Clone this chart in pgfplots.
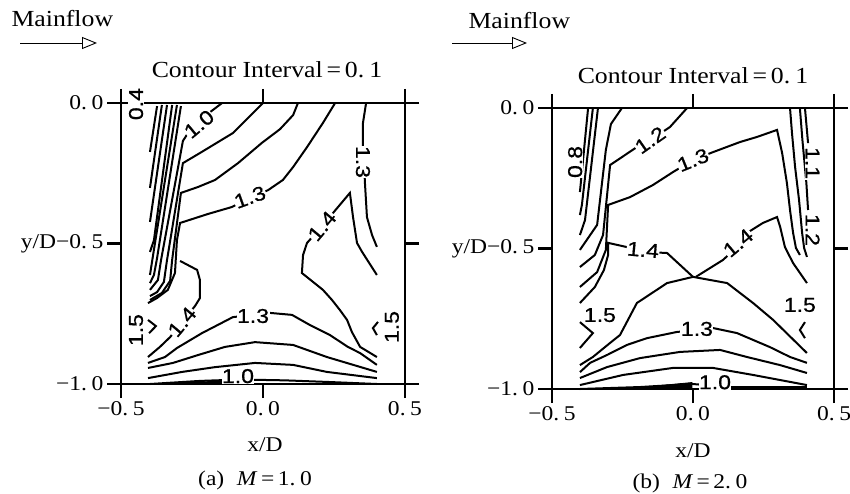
\documentclass[border=0pt]{standalone}
\usepackage{fontspec}
\setmainfont{Liberation Serif}[FakeStretch=1.12]
\newfontfamily\lab{Liberation Sans}[FakeStretch=1.15, FakeBold=0.8]
\usepackage{pgfplots}
\pgfplotsset{compat=1.18}
\usetikzlibrary{arrows.meta}

\newcommand{\dt}{.\hspace{0.22em}}

\pgfplotsset{
  cpanel/.style={
    scale only axis, height=281pt,
    xmin=-0.5, xmax=0.5, ymin=-1, ymax=0,
    xtick={-0.5,0,0.5}, ytick={-1,-0.5,0},
    xticklabels={−0\dt5, 0\dt0, 0\dt5},
    yticklabels={−1\dt0, y/D−0\dt5, 0\dt0},
    tick align=outside, major tick length=14pt,
    axis line style={line width=2.2pt},
    tick style={line width=2.2pt, black},
    ticklabel style={font=\fontsize{21}{22}\selectfont},
    clip=false,
  },
  cline/.style={line width=2pt, black, no markers},
}
\tikzset{lbl/.style={font=\lab\fontsize{20}{20}\selectfont, fill=white, inner sep=0.5pt}}

\begin{document}
\begin{tikzpicture}
\path[use as bounding box] (0,0) rectangle (850pt,-494pt);

% ---------------- (a) M = 1.0
\begin{axis}[cpanel, width=284pt, at={(121pt,-384pt)}, anchor=south west]
% left fan
\addplot[cline] coordinates {(-0.373,-0.011) (-0.398,-0.174)};
\addplot[cline] coordinates {(-0.356,-0.007) (-0.398,-0.302)};
\addplot[cline] coordinates {(-0.338,-0.007) (-0.398,-0.423)};
\addplot[cline] coordinates {(-0.320,-0.007) (-0.384,-0.488) (-0.398,-0.530)};
\addplot[cline] coordinates {(-0.303,-0.007) (-0.387,-0.541) (-0.398,-0.612)};
\addplot[cline] coordinates {(-0.289,-0.011) (-0.373,-0.552) (-0.384,-0.612) (-0.398,-0.641)};
% 1.0
\addplot[cline] coordinates {(-0.144,0) (-0.204,-0.046) (-0.257,-0.096) (-0.282,-0.135)
  (-0.359,-0.559) (-0.370,-0.630) (-0.398,-0.665)};
% 1.1
\addplot[cline] coordinates {(0,0) (-0.106,-0.107) (-0.222,-0.178) (-0.282,-0.214)
  (-0.338,-0.559) (-0.349,-0.637) (-0.373,-0.673) (-0.398,-0.687)};
% 1.2
\addplot[cline] coordinates {(0.123,0) (0.106,-0.043) (0.060,-0.093) (-0.004,-0.142)
  (-0.088,-0.214) (-0.169,-0.274) (-0.229,-0.299) (-0.289,-0.320)
  (-0.320,-0.559) (-0.327,-0.633) (-0.356,-0.676) (-0.398,-0.701)};
% 1.3 (upper left)
\addplot[cline] coordinates {(0.254,0) (0.211,-0.071) (0.155,-0.157) (0.106,-0.228)
  (0.070,-0.274) (0.018,-0.310) (-0.046,-0.338) (-0.109,-0.370) (-0.194,-0.395)
  (-0.292,-0.427) (-0.303,-0.488) (-0.310,-0.605) (-0.335,-0.665) (-0.373,-0.694) (-0.405,-0.712)};
% 1.4 (left)
\addplot[cline] coordinates {(-0.292,-0.562) (-0.232,-0.594) (-0.222,-0.630) (-0.222,-0.694)
  (-0.239,-0.722) (-0.285,-0.779) (-0.327,-0.833) (-0.363,-0.868) (-0.405,-0.904)};
% 1.3 (right, from top)
\addplot[cline] coordinates {(0.363,0) (0.352,-0.071) (0.352,-0.157) (0.356,-0.221)
  (0.359,-0.285) (0.366,-0.406) (0.384,-0.470) (0.401,-0.512)};
% 1.4 (right)
\addplot[cline] coordinates {(0.401,-0.612) (0.349,-0.530) (0.331,-0.498) (0.317,-0.406)
  (0.306,-0.320) (0.261,-0.374) (0.208,-0.438) (0.155,-0.498) (0.141,-0.541) (0.137,-0.605)
  (0.211,-0.665) (0.243,-0.701) (0.271,-0.737) (0.296,-0.772) (0.313,-0.815) (0.342,-0.868) (0.401,-0.904)};
% 1.3 (bottom)
\addplot[cline] coordinates {(-0.405,-0.925) (-0.345,-0.904) (-0.303,-0.872) (-0.215,-0.819)
  (-0.106,-0.762) (-0.039,-0.754) (0.025,-0.747) (0.102,-0.754) (0.165,-0.790)
  (0.236,-0.826) (0.299,-0.868) (0.342,-0.890) (0.401,-0.932)};
% 1.2 (bottom)
\addplot[cline] coordinates {(-0.405,-0.943) (-0.317,-0.925) (-0.229,-0.897) (-0.134,-0.868)
  (-0.028,-0.851) (0.106,-0.861) (0.225,-0.904) (0.401,-0.957)};
% 1.1 (bottom)
\addplot[cline] coordinates {(-0.405,-0.979) (-0.285,-0.957) (-0.169,-0.940) (-0.028,-0.925)
  (0.106,-0.932) (0.225,-0.957) (0.401,-0.979)};
% 1.0 (bottom)
\addplot[cline] coordinates {(-0.398,-1.0) (-0.222,-0.989) (-0.081,-0.984) (0.077,-0.987)
  (0.236,-0.993) (0.401,-1.0)};
\addplot[cline] coordinates {(-0.345,-0.998) (-0.169,-0.993) (-0.088,-0.991)};
% 1.5 bits
\addplot[cline] coordinates {(-0.405,-0.772) (-0.377,-0.794) (-0.401,-0.819)};
\addplot[cline] coordinates {(0.405,-0.779) (0.387,-0.801) (0.401,-0.826)};
% labels
\node[lbl, rotate=90] at (axis cs:-0.447,-0.004) {0.4};
\node[lbl, rotate=40] at (axis cs:-0.225,-0.075) {1.0};
\node[lbl, rotate=20] at (axis cs:-0.046,-0.335) {1.3};
\node[lbl, rotate=-90] at (axis cs:0.352,-0.210) {1.3};
\node[lbl, rotate=50] at (axis cs:0.208,-0.438) {1.4};
\node[lbl, rotate=50] at (axis cs:-0.285,-0.779) {1.4};
\node[lbl] at (axis cs:-0.035,-0.758) {1.3};
\node[lbl] at (axis cs:-0.088,-0.972) {1.0};
\node[lbl, rotate=90] at (axis cs:-0.447,-0.808) {1.5};
\node[lbl, rotate=90] at (axis cs:0.454,-0.797) {1.5};
\end{axis}

% ---------------- (b) M = 2.0
\begin{axis}[cpanel, width=282pt, at={(552pt,-389pt)}, anchor=south west]
% left fan
\addplot[cline] coordinates {(-0.372,0) (-0.401,-0.299)};
\addplot[cline] coordinates {(-0.355,0) (-0.394,-0.345) (-0.401,-0.381)};
\addplot[cline] coordinates {(-0.337,0) (-0.383,-0.399) (-0.401,-0.452)};
\addplot[cline] coordinates {(-0.252,0) (-0.291,-0.057) (-0.309,-0.149) (-0.340,-0.416) (-0.401,-0.505)};
% 1.2
\addplot[cline] coordinates {(-0.021,0) (-0.082,-0.068) (-0.152,-0.114) (-0.199,-0.139)
  (-0.294,-0.203) (-0.319,-0.452) (-0.348,-0.523) (-0.401,-0.566)};
% 1.3
\addplot[cline] coordinates {(0.379,-0.523) (0.365,-0.498) (0.355,-0.445) (0.344,-0.363)
  (0.333,-0.267) (0.316,-0.160) (0.298,-0.078) (0.227,-0.103) (0.167,-0.121) (0.071,-0.157) (0,-0.185)
  (-0.071,-0.228) (-0.142,-0.274) (-0.223,-0.317) (-0.301,-0.345) (-0.309,-0.505)
  (-0.340,-0.584) (-0.401,-0.637)};
% 1.4 (left branch)
\addplot[cline] coordinates {(-0.401,-0.694) (-0.348,-0.637) (-0.316,-0.577) (-0.301,-0.523)
  (-0.301,-0.480) (-0.234,-0.495) (-0.177,-0.512) (-0.092,-0.516) (0,-0.601)};
% 1.4 (right branch)
\addplot[cline] coordinates {(0.01,-0.601) (0.106,-0.541) (0.156,-0.495) (0.191,-0.445)
  (0.248,-0.409) (0.298,-0.388) (0.309,-0.423) (0.326,-0.495) (0.355,-0.552) (0.404,-0.623)};
% 1.4 (lower arch)
\addplot[cline] coordinates {(-0.401,-0.915) (-0.355,-0.886) (-0.294,-0.836) (-0.259,-0.808)
  (-0.199,-0.694) (-0.092,-0.623) (0,-0.601) (0.121,-0.623) (0.213,-0.694)
  (0.284,-0.754) (0.404,-0.872)};
% right fan
\addplot[cline] coordinates {(0.344,0) (0.351,-0.089) (0.362,-0.210) (0.376,-0.327)
  (0.387,-0.445) (0.394,-0.498) (0.404,-0.530)};
\addplot[cline] coordinates {(0.379,0) (0.388,-0.114) (0.402,-0.267) (0.408,-0.363)};
\addplot[cline] coordinates {(0.397,0) (0.408,-0.125)};
% 1.3 (bottom)
\addplot[cline] coordinates {(-0.401,-0.940) (-0.365,-0.907) (-0.305,-0.879) (-0.234,-0.843)
  (-0.163,-0.819) (-0.057,-0.797) (0.014,-0.790) (0.071,-0.783) (0.156,-0.801) (0.273,-0.851)
  (0.344,-0.886) (0.404,-0.907)};
% 1.2 (bottom)
\addplot[cline] coordinates {(-0.401,-0.961) (-0.305,-0.922) (-0.188,-0.890) (-0.046,-0.868)
  (0.096,-0.861) (0.191,-0.886) (0.309,-0.915) (0.404,-0.943)};
% 1.1 (bottom)
\addplot[cline] coordinates {(-0.401,-0.986) (-0.248,-0.950) (-0.071,-0.925) (0.071,-0.925)
  (0.213,-0.950) (0.404,-0.986)};
% 1.0 (bottom)
\addplot[cline] coordinates {(-0.401,-1.0) (-0.188,-0.993) (-0.004,-0.982) (0.131,-0.993) (0.404,-0.993)};
\addplot[fill=black, draw=black, line width=0.8pt] coordinates {(-0.223,-0.998) (-0.004,-0.977) (-0.004,-1.0) (-0.223,-0.998)};
% 1.5 bits
\addplot[cline] coordinates {(-0.401,-0.762) (-0.355,-0.801) (-0.401,-0.854)};
\addplot[cline] coordinates {(0.397,-0.762) (0.379,-0.790) (0.397,-0.819)};
% labels
\node[lbl, rotate=90] at (axis cs:-0.418,-0.192) {0.8};
\node[lbl, rotate=35] at (axis cs:-0.152,-0.114) {1.2};
\node[lbl, rotate=22] at (axis cs:0,-0.185) {1.3};
\node[lbl, rotate=-90] at (axis cs:0.424,-0.196) {1.1};
\node[lbl, rotate=-90] at (axis cs:0.424,-0.434) {1.2};
\node[lbl, rotate=-5] at (axis cs:-0.177,-0.505) {1.4};
\node[lbl, rotate=40] at (axis cs:0.160,-0.480) {1.4};
\node[lbl] at (axis cs:-0.330,-0.737) {1.5};
\node[lbl] at (axis cs:0.379,-0.701) {1.5};
\node[lbl] at (axis cs:0.014,-0.786) {1.3};
\node[lbl] at (axis cs:0.078,-0.976) {1.0};
\end{axis}

% titles, arrows, captions
\node[anchor=base west, font=\fontsize{23}{24}\selectfont] at (8pt,-27pt) {Mainflow};
\draw[line width=0.7pt, -{Triangle[open, length=15pt, width=12pt, line width=0.9pt]}] (20pt,-43pt) -- (97pt,-43pt);
\node[font=\fontsize{23}{24}\selectfont] at (267pt,-70pt) {Contour Interval\,=\,0\dt1};
\node[font=\fontsize{21}{22}\selectfont] at (265pt,-445pt) {x/D};
\node[font=\fontsize{21}{22}\selectfont] at (255pt,-480pt) {(a)\hspace{0.6em}\textit{M}\,=\,1\dt0};

\node[anchor=base west, font=\fontsize{23}{24}\selectfont] at (465pt,-29pt) {Mainflow};
\draw[line width=0.7pt, -{Triangle[open, length=15pt, width=12pt, line width=0.9pt]}] (452pt,-43pt) -- (527pt,-43pt);
\node[font=\fontsize{23}{24}\selectfont] at (693pt,-76pt) {Contour Interval\,=\,0\dt1};
\node[font=\fontsize{21}{22}\selectfont] at (693pt,-451pt) {x/D};
\node[font=\fontsize{21}{22}\selectfont] at (690pt,-483pt) {(b)\hspace{0.6em}\textit{M}\,=\,2\dt0};
\end{tikzpicture}
\end{document}
